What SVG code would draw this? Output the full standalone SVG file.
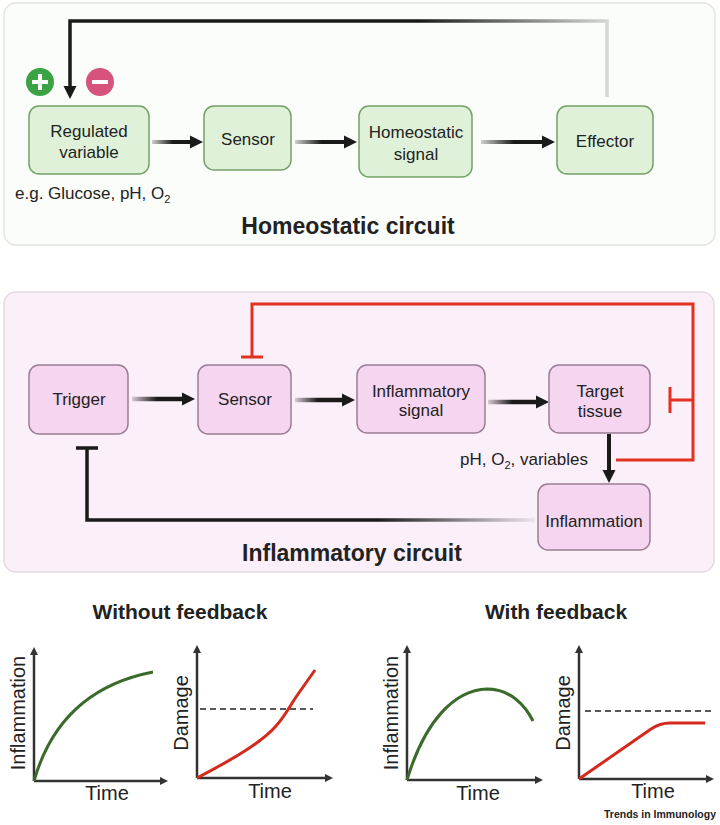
<svg xmlns="http://www.w3.org/2000/svg" width="720" height="825" viewBox="0 0 720 825">
<style>
text{font-family:"Liberation Sans",Arial,sans-serif;fill:#222}
.bx{font-size:17px;text-anchor:middle}
.title{font-size:23px;font-weight:bold;text-anchor:middle}
.sub{font-size:21px;font-weight:bold;text-anchor:middle}
.ax{font-size:20px;text-anchor:middle}
.gbox{fill:#dff2d9;stroke:#74a067;stroke-width:1.5}
.pbox{fill:#f5d5f0;stroke:#9a7d93;stroke-width:1.5}
.axis{fill:none;stroke:#333;stroke-width:2.5}
.dash{fill:none;stroke:#222;stroke-width:1.6;stroke-dasharray:6 4}
.red{fill:none;stroke:#e2321f;stroke-width:3}
</style>
<defs>
<marker id="ah" viewBox="0 0 10 10" refX="0" refY="5" markerUnits="userSpaceOnUse" markerWidth="13" markerHeight="14" orient="auto"><path d="M0,0 L10,5 L0,10 z" fill="#1a1a1a"/></marker>
<marker id="axh" viewBox="0 0 10 10" refX="0" refY="5" markerUnits="userSpaceOnUse" markerWidth="8" markerHeight="8" orient="auto"><path d="M0,0 L10,5 L0,10 z" fill="#333"/></marker>
<linearGradient id="g1" gradientUnits="userSpaceOnUse" x1="152" y1="0" x2="190" y2="0"><stop offset="0" stop-color="#cfcfcf"/><stop offset="0.55" stop-color="#1a1a1a"/></linearGradient>
<linearGradient id="g2" gradientUnits="userSpaceOnUse" x1="295" y1="0" x2="343" y2="0"><stop offset="0" stop-color="#cfcfcf"/><stop offset="0.55" stop-color="#1a1a1a"/></linearGradient>
<linearGradient id="g3" gradientUnits="userSpaceOnUse" x1="481" y1="0" x2="541" y2="0"><stop offset="0" stop-color="#cfcfcf"/><stop offset="0.55" stop-color="#1a1a1a"/></linearGradient>
<linearGradient id="gfb" gradientUnits="userSpaceOnUse" x1="607" y1="0" x2="70" y2="0"><stop offset="0" stop-color="#d6d6d6"/><stop offset="0.35" stop-color="#1a1a1a"/></linearGradient>
<linearGradient id="m1" gradientUnits="userSpaceOnUse" x1="132" y1="0" x2="182" y2="0"><stop offset="0" stop-color="#d8c8d6"/><stop offset="0.5" stop-color="#1a1a1a"/></linearGradient>
<linearGradient id="m2" gradientUnits="userSpaceOnUse" x1="295" y1="0" x2="341" y2="0"><stop offset="0" stop-color="#d8c8d6"/><stop offset="0.5" stop-color="#1a1a1a"/></linearGradient>
<linearGradient id="m3" gradientUnits="userSpaceOnUse" x1="488" y1="0" x2="537" y2="0"><stop offset="0" stop-color="#d8c8d6"/><stop offset="0.5" stop-color="#1a1a1a"/></linearGradient>
<linearGradient id="mfb" gradientUnits="userSpaceOnUse" x1="535" y1="0" x2="87" y2="0"><stop offset="0" stop-color="#efe4ee"/><stop offset="0.35" stop-color="#1a1a1a"/></linearGradient>
</defs>

<!-- panels -->
<rect id="homeostatic-panel" x="4" y="3" width="711" height="242" rx="12" fill="#fbfdfa" stroke="#e2e6e0" stroke-width="1.5"/>
<rect id="inflammatory-panel" x="4" y="292" width="710" height="280" rx="12" fill="#fbf0fa" stroke="#e3dbe2" stroke-width="1.5"/>

<!-- connectors -->
<g id="connectors">
  <path d="M152,142 H190" stroke="url(#g1)" stroke-width="4" fill="none" marker-end="url(#ah)"/>
  <path d="M295,142 H344" stroke="url(#g2)" stroke-width="4" fill="none" marker-end="url(#ah)"/>
  <path d="M481,142 H542" stroke="url(#g3)" stroke-width="4" fill="none" marker-end="url(#ah)"/>
  <path d="M607,97 V21 H70 V86" stroke="url(#gfb)" stroke-width="3.5" fill="none" marker-end="url(#ah)"/>

  <path d="M132,399 H182" stroke="url(#m1)" stroke-width="4.5" fill="none" marker-end="url(#ah)"/>
  <path d="M295,400 H342" stroke="url(#m2)" stroke-width="4.5" fill="none" marker-end="url(#ah)"/>
  <path d="M488,402 H536" stroke="url(#m3)" stroke-width="4.5" fill="none" marker-end="url(#ah)"/>
  <path d="M609,434 V470" stroke="#1a1a1a" stroke-width="4" fill="none" marker-end="url(#ah)"/>

  <path class="red" d="M252,357 V304 H693 V460 H616"/>
  <path class="red" d="M241,357 H263" stroke-width="3.5"/>
  <path class="red" d="M693,400 H670 M670,387 V413"/>

  <path d="M535,520 H87 V448" stroke="url(#mfb)" stroke-width="3.5" fill="none"/>
  <path d="M76,448 H98" stroke="#1a1a1a" stroke-width="3.5" fill="none"/>
</g>

<!-- homeostatic circuit -->
<g id="plus">
  <circle cx="40" cy="82" r="14" fill="#3ba344"/>
  <path d="M32,82 H48 M40,74 V90" stroke="#fff" stroke-width="4"/>
</g>
<g id="minus">
  <circle cx="100" cy="82" r="14" fill="#d6547b"/>
  <path d="M92,82 H108" stroke="#fff" stroke-width="4"/>
</g>
<g id="regulated-variable">
  <rect class="gbox" x="29" y="106" width="120" height="68" rx="10"/>
  <text class="bx" x="89" y="137">Regulated</text>
  <text class="bx" x="89" y="158">variable</text>
</g>
<g id="sensor-h">
  <rect class="gbox" x="204" y="106" width="87" height="64" rx="10"/>
  <text class="bx" x="248" y="145">Sensor</text>
</g>
<g id="homeostatic-signal">
  <rect class="gbox" x="359" y="106" width="113" height="71" rx="10"/>
  <text class="bx" x="416" y="138">Homeostatic</text>
  <text class="bx" x="416" y="160">signal</text>
</g>
<g id="effector">
  <rect class="gbox" x="557" y="106" width="96" height="68" rx="10"/>
  <text class="bx" x="605" y="147">Effector</text>
</g>
<text x="15" y="199" font-size="17">e.g. Glucose, pH, O<tspan font-size="11" dy="4">2</tspan></text>
<text class="title" x="348" y="234">Homeostatic circuit</text>

<!-- inflammatory circuit -->
<g id="trigger">
  <rect class="pbox" x="29" y="365" width="99" height="69" rx="10"/>
  <text class="bx" x="79" y="405">Trigger</text>
</g>
<g id="sensor-i">
  <rect class="pbox" x="198" y="365" width="93" height="69" rx="10"/>
  <text class="bx" x="245" y="405" font-size="18">Sensor</text>
</g>
<g id="inflammatory-signal">
  <rect class="pbox" x="357" y="365" width="128" height="68" rx="10"/>
  <text class="bx" x="421" y="397">Inflammatory</text>
  <text class="bx" x="421" y="416">signal</text>
</g>
<g id="target-tissue">
  <rect class="pbox" x="549" y="365" width="101" height="68" rx="10"/>
  <text class="bx" x="600" y="397">Target</text>
  <text class="bx" x="600" y="417">tissue</text>
</g>
<g id="inflammation">
  <rect class="pbox" x="538" y="484" width="112" height="66" rx="10"/>
  <text class="bx" x="594" y="527">Inflammation</text>
</g>
<text x="588" y="465" font-size="17" text-anchor="end">pH, O<tspan font-size="11" dy="4">2</tspan><tspan dy="-4">, variables</tspan></text>
<text class="title" x="352" y="561">Inflammatory circuit</text>

<!-- graphs -->
<text class="sub" x="180" y="619">Without feedback</text>
<text class="sub" x="556" y="619">With feedback</text>

<g id="graph-inflammation-without">
  <path class="axis" d="M34,781 V655" marker-end="url(#axh)"/>
  <path class="axis" d="M34,781 H160" marker-end="url(#axh)"/>
  <path d="M34,781 Q60,690 153,672" fill="none" stroke="#3b6b2b" stroke-width="3"/>
  <text class="ax" transform="translate(25,713) rotate(-90)">Inflammation</text>
  <text class="ax" x="107" y="800">Time</text>
</g>
<g id="graph-damage-without">
  <path class="axis" d="M197,778 V653" marker-end="url(#axh)"/>
  <path class="axis" d="M197,778 H325" marker-end="url(#axh)"/>
  <path class="dash" d="M200,709 H313"/>
  <path d="M197,778 C235,758 262,742 276,726 C285,716 290,706 296,697 L315,670" fill="none" stroke="#d42a1e" stroke-width="3"/>
  <text class="ax" transform="translate(188,713) rotate(-90)">Damage</text>
  <text class="ax" x="270" y="798">Time</text>
</g>
<g id="graph-inflammation-with">
  <path class="axis" d="M407,780 V653" marker-end="url(#axh)"/>
  <path class="axis" d="M407,780 H535" marker-end="url(#axh)"/>
  <path d="M407,780 C425,720 455,690 487,689 C510,689 525,705 533,721" fill="none" stroke="#3b6b2b" stroke-width="3"/>
  <text class="ax" transform="translate(398,713) rotate(-90)">Inflammation</text>
  <text class="ax" x="478" y="800">Time</text>
</g>
<g id="graph-damage-with">
  <path class="axis" d="M579,779 V653" marker-end="url(#axh)"/>
  <path class="axis" d="M579,779 H706" marker-end="url(#axh)"/>
  <path class="dash" d="M585,711 H711"/>
  <path d="M579,779 L651,729 Q660,723 670,723 L705,723" fill="none" stroke="#d42a1e" stroke-width="3"/>
  <text class="ax" transform="translate(570,713) rotate(-90)">Damage</text>
  <text class="ax" x="653" y="798">Time</text>
</g>
<text x="604" y="818" font-size="10.5" font-weight="bold" textLength="112" lengthAdjust="spacingAndGlyphs">Trends in Immunology</text>
</svg>
